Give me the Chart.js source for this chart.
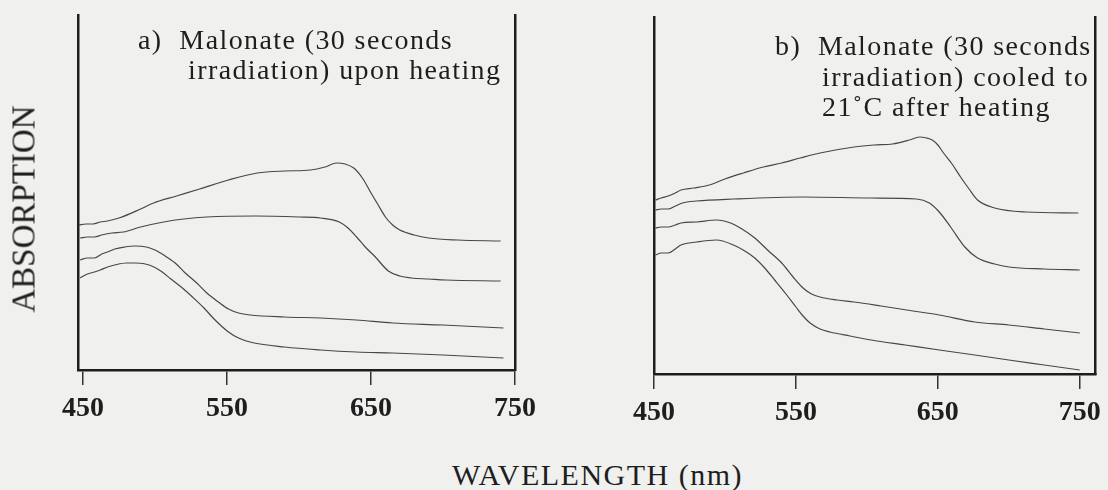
<!DOCTYPE html>
<html>
<head>
<meta charset="utf-8">
<script src="https://cdn.jsdelivr.net/npm/chart.js@4.4.0/dist/chart.umd.min.js"></script>
<style>
  body { margin:0; background:#f0f0ee; width:1108px; height:490px; overflow:hidden; position:relative;
         font-family:"Liberation Serif","Times New Roman",serif; color:#1e1e1e; }
  canvas { position:absolute; top:0; }
  #chartA { left:0; }
  #chartB { left:560px; }
  .cap { position:absolute; font-size:28px; line-height:28px; letter-spacing:1.4px; white-space:pre; }
  #ylab { position:absolute; left:24px; top:209px; font-size:33px; line-height:33px; white-space:pre;
          transform:translate(-50%,-50%) rotate(-90deg); }
  #xlab { position:absolute; left:452px; top:460px; font-size:30px; line-height:30px; letter-spacing:1.5px; white-space:pre; }
</style>
</head>
<body>
<canvas id="chartA" width="560" height="430"></canvas>
<canvas id="chartB" width="548" height="434"></canvas>
<div class="cap" style="left:138px;top:26px">a)  Malonate (30 seconds</div>
<div class="cap" style="left:188px;top:56px">irradiation) upon heating</div>
<div class="cap" style="left:775px;top:32px">b)  Malonate (30 seconds</div>
<div class="cap" style="left:822px;top:63px">irradiation) cooled to</div>
<div class="cap" style="left:822px;top:93px">21˚C after heating</div>
<div id="ylab">ABSORPTION</div>
<div id="xlab">WAVELENGTH (nm)</div>
<script>
// tick labels on both panels
const xTicks = [450, 550, 650, 750];

// panel a) upon heating  (wavelength nm, absorption arbitrary units)
const waveA1 = [447,452,457,462,467,475,490,499,515,531,551,571,590,608,618,626,632,638,644,650,655,660,665,670,680,690,710,740];
const absA1  = [1.45,1.46,1.46,1.48,1.49,1.52,1.61,1.67,1.74,1.81,1.90,1.97,1.99,2.00,2.03,2.07,2.06,2.02,1.92,1.77,1.65,1.53,1.45,1.40,1.35,1.32,1.30,1.29];
const waveA2 = [448,453,458,463,470,478,490,506,520,536,570,600,615,628,634,640,646,653,662,670,678,690,702,740];
const absA2  = [1.32,1.33,1.33,1.35,1.37,1.38,1.43,1.48,1.51,1.53,1.54,1.53,1.52,1.48,1.42,1.33,1.23,1.13,0.99,0.94,0.92,0.91,0.90,0.89];
const waveA3 = [448,453,458,463,467,472,479,486,494,500,506,514,521,529,536,544,551,558,566,590,615,640,665,700,742];
const absA3  = [1.10,1.12,1.12,1.16,1.18,1.21,1.23,1.24,1.23,1.20,1.15,1.07,0.97,0.87,0.77,0.68,0.61,0.57,0.55,0.53,0.52,0.50,0.47,0.45,0.42];
const waveA4 = [448,453,458,462,467,472,480,487,496,504,511,519,526,534,541,551,558,566,590,615,640,665,700,742];
const absA4  = [0.92,0.96,0.98,1.00,1.03,1.05,1.07,1.07,1.05,0.99,0.91,0.82,0.73,0.62,0.51,0.38,0.32,0.28,0.23,0.20,0.18,0.17,0.15,0.12];

// panel b) cooled to 21 C after heating
const waveB1 = [451,455,460,465,469,478,489,500,513,527,540,553,567,591,605,618,630,637,642,646,650,654,660,666,672,678,690,712,749];
const absB1  = [1.74,1.76,1.78,1.81,1.84,1.86,1.89,1.95,2.01,2.07,2.11,2.16,2.21,2.27,2.29,2.30,2.34,2.37,2.36,2.34,2.29,2.21,2.10,1.97,1.85,1.74,1.66,1.62,1.61];
const waveB2 = [451,455,460,465,470,480,506,555,603,635,644,651,659,669,678,690,700,725,750];
const absB2  = [1.64,1.65,1.65,1.68,1.71,1.73,1.75,1.77,1.76,1.75,1.71,1.62,1.47,1.27,1.16,1.10,1.07,1.05,1.04];
const waveB3 = [451,455,460,465,469,480,494,504,512,521,530,540,548,555,561,567,579,591,610,628,651,676,700,725,750];
const absB3  = [1.46,1.47,1.47,1.49,1.51,1.52,1.54,1.51,1.45,1.36,1.24,1.11,0.97,0.86,0.80,0.77,0.74,0.72,0.68,0.64,0.59,0.52,0.49,0.45,0.41];
const waveB4 = [451,455,460,465,469,480,494,506,514,521,528,535,543,550,555,560,567,574,588,603,627,651,676,700,725,750];
const absB4  = [1.19,1.21,1.21,1.25,1.29,1.32,1.34,1.29,1.23,1.16,1.06,0.94,0.80,0.67,0.58,0.51,0.45,0.42,0.38,0.34,0.29,0.24,0.19,0.14,0.09,0.04];

const ink = '#1e1e1e';

function pts(w, a) {
  return w.map((x, i) => ({ x: x, y: a[i] }));
}

function makeChart(id, curves, xmin, xmax, ymax, pad) {
  const datasets = curves.map(c => ({
    data: pts(c[0], c[1]),
    borderColor: '#474747',
    borderWidth: 1.2,
    pointRadius: 0,
    cubicInterpolationMode: 'monotone',
    yAxisID: 'y'
  }));
  const sideAxis = (pos) => ({
    position: pos, min: 0, max: ymax,
    ticks: { display: false },
    grid: { display: false },
    border: { display: true, color: ink, width: 2.5 },
    afterFit: s => { s.width = 0; }
  });
  return new Chart(document.getElementById(id), {
    type: 'line',
    data: { datasets: datasets },
    options: {
      responsive: false,
      animation: false,
      layout: { padding: pad },
      plugins: { legend: { display: false }, tooltip: { enabled: false } },
      scales: {
        x: {
          type: 'linear', min: xmin, max: xmax,
          afterBuildTicks: s => { s.ticks = xTicks.map(v => ({ value: v })); },
          afterFit: s => { s.height = 60; },
          ticks: { color: ink, padding: 7, maxRotation: 0, autoSkip: false,
                   font: { family: 'Liberation Serif', size: 28, weight: 'bold' } },
          grid: { drawOnChartArea: false, drawTicks: true, tickLength: 15, color: '#333', lineWidth: 1.5 },
          border: { display: true, color: ink, width: 2.5 }
        },
        y: sideAxis('left'),
        y2: sideAxis('right')
      }
    }
  });
}

makeChart('chartA', [[waveA1, absA1], [waveA2, absA2], [waveA3, absA3], [waveA4, absA4]],
  446.5, 750, 3.55, { left: 78, right: 45, top: 15, bottom: 0 });
makeChart('chartB', [[waveB1, absB1], [waveB2, absB2], [waveB3, absB3], [waveB4, absB4]],
  450, 761, 3.57, { left: 94, right: 6, top: 17, bottom: 0 });
</script>
</body>
</html>
